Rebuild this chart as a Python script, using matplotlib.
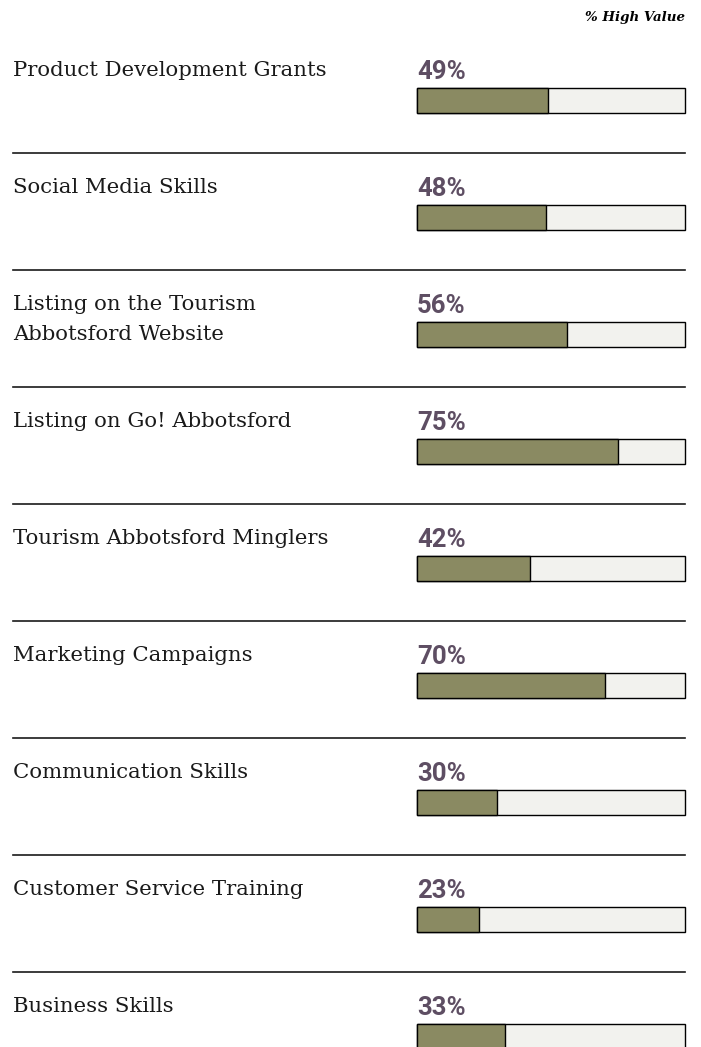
import numpy as np
import matplotlib.pyplot as plt

categories = [
    "Product Development Grants",
    "Social Media Skills",
    "Listing on the Tourism\nAbbotsford Website",
    "Listing on Go! Abbotsford",
    "Tourism Abbotsford Minglers",
    "Marketing Campaigns",
    "Communication Skills",
    "Customer Service Training",
    "Business Skills",
]
values = np.array([49, 48, 56, 75, 42, 70, 30, 23, 33])
header = "% High Value"

oliveColor = "#8a8a62"
trackColor = "#f2f2ee"
pctColor = "#5e4e63"

width, height = 701, 1047
rowStep = 117
labelBase = 76
lineGap = 30
barTop = 88
barHeight = 25
barLeft = 417
barWidth = 268
lineLeft = 13

figure = plt.figure(figsize=(width / 100, height / 100), dpi=100)
ax = figure.add_axes([0, 0, 1, 1])
ax.set_xlim(0, width)
ax.set_ylim(height, 0)
ax.axis("off")

rows = np.arange(len(categories))
barCenters = barTop + barHeight / 2 + rows * rowStep

ax.barh(barCenters, barWidth, left=barLeft, height=barHeight,
        color=trackColor, edgecolor="black", linewidth=1.0, zorder=1)
ax.barh(barCenters, values / 100 * barWidth, left=barLeft, height=barHeight,
        color=oliveColor, edgecolor="black", linewidth=1.0, zorder=2)

for i, (name, val) in enumerate(zip(categories, values)):
    y0 = labelBase + i * rowStep
    # one text per line so the first line sits where single labels sit
    for k, part in enumerate(name.split("\n")):
        ax.text(lineLeft, y0 + k * lineGap, part, fontsize=15.3,
                family="DejaVu Serif", va="baseline", ha="left",
                color="#1a1a1a")
    ax.text(barLeft, y0 + 3, f"{val}%", fontsize=18.5, family="Roboto",
            fontweight="bold", color=pctColor, va="baseline", ha="left")

for i in range(len(categories) - 1):
    ax.plot([lineLeft, barLeft + barWidth], [153 + i * rowStep] * 2,
            color="#1a1a1a", linewidth=1.2)

ax.text(barLeft + barWidth, 17, header, fontsize=9.6, family="DejaVu Serif",
        fontweight="bold", fontstyle="italic", ha="right", va="center")

plt.savefig("out.png", dpi=100)
